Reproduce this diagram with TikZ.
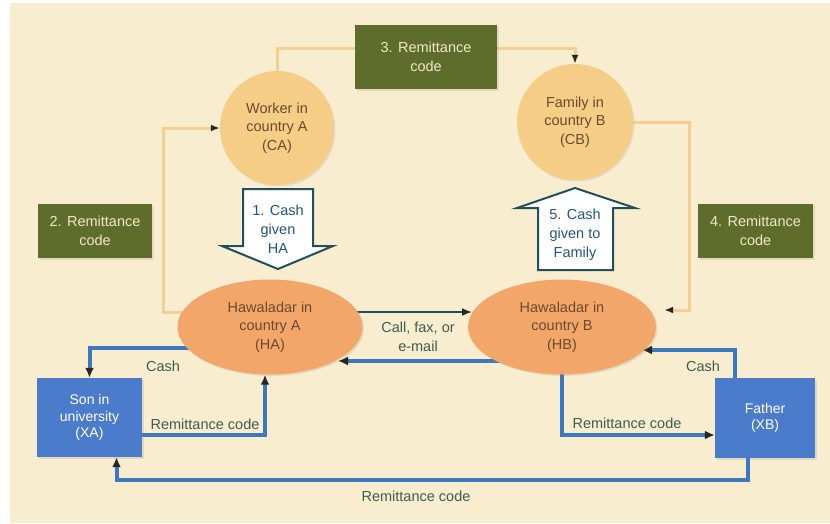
\documentclass[tikz,border=0pt]{standalone}
\usepackage{fontspec}
\setmainfont{Liberation Sans}
\usetikzlibrary{arrows.meta,calc,shapes.geometric,shadows,backgrounds}
\definecolor{cream}{HTML}{F9EDCF}
\definecolor{circfill}{HTML}{F6CD86}
\definecolor{ellfill}{HTML}{F3A66A}
\definecolor{olive}{HTML}{5E6D2C}
\definecolor{oliveText}{HTML}{F2E8C6}
\definecolor{boxblue}{HTML}{4B7BCB}
\definecolor{lineblue}{HTML}{3C78C1}
\definecolor{tanline}{HTML}{F4CE92}
\definecolor{browntext}{HTML}{6B4A2C}
\definecolor{labeltext}{HTML}{3E5C52}
\definecolor{arrowedge}{HTML}{234E5C}
\definecolor{arrowtext}{HTML}{24557A}
\begin{document}
\begin{tikzpicture}[x=1pt,y=-1pt,
  txt/.style={font=\fontsize{14.5}{18.5}\selectfont, align=center},
  soft/.style={drop shadow={opacity=0.18, shadow xshift=1.5pt, shadow yshift=-1.5pt}},
  circ/.style={circle, fill=circfill, minimum size=114pt, inner sep=0pt, txt, text=browntext, soft},
  ell/.style={ellipse, fill=ellfill, inner sep=0pt, txt, text=browntext, soft},
  greenbox/.style={rectangle, fill=olive, inner sep=0pt, txt, text=oliveText, soft},
  bluebox/.style={rectangle, fill=boxblue, inner sep=0pt, txt, text=white, font=\fontsize{14}{16.5}\selectfont, soft},
  tan/.style={draw=tanline, line width=3pt, -{Latex[length=9pt,width=7pt,color=black!85]}},
  tanplain/.style={draw=tanline, line width=3pt},
  blue/.style={draw=lineblue, line width=4pt, -{Latex[length=10pt,width=9pt,color=black!85]}},
  thin/.style={draw=arrowedge, line width=1.8pt, -{Latex[length=10pt,width=8pt,color=black!85]}},
  lab/.style={txt, text=labeltext, inner sep=1pt},
  bigarrow/.style={fill=white, draw=arrowedge, line width=2pt, line join=miter},
  arrowtxt/.style={txt, text=arrowtext, font=\fontsize{14.5}{19}\selectfont, inner sep=0pt}]

\begin{pgfonlayer}{background}
  \fill[white] (0,0) rectangle (830,523);
  \fill[cream] (10,3) rectangle (830,523);
\end{pgfonlayer}
\useasboundingbox (0,0) rectangle (830,523);

% nodes
\node[circ] (CA) at (277,128) {Worker in\\country A\\(CA)};
\node[circ, minimum size=116pt] (CB) at (575,122) {Family in\\country B\\(CB)};
\node[greenbox, minimum width=142pt, minimum height=64pt] (B3) at (426,57) {3. Remittance\\code};
\node[greenbox, minimum width=114pt, minimum height=54pt] (B2) at (95,231) {2. Remittance\\code};
\node[greenbox, minimum width=115pt, minimum height=54pt] (B4) at (755.5,231) {4. Remittance\\code};
\node[ell, minimum width=185pt, minimum height=95pt] (HA) at (270,327) {Hawaladar in\\country A\\(HA)};
\node[ell, minimum width=188pt, minimum height=95pt] (HB) at (562,327) {Hawaladar in\\country B\\(HB)};
\node[bluebox, minimum width=105pt, minimum height=79pt] (XA) at (89.5,417.5) {Son in\\university\\(XA)};
\node[bluebox, minimum width=100pt, minimum height=80pt] (XB) at (765,418) {Father\\(XB)};

% big arrows
\path[bigarrow] (243,189) -- (313,189) -- (313,246) -- (333,246) -- (278,269) -- (222,246) -- (243,246) -- cycle;
\node[arrowtxt] (A1) at (278,229) {1. Cash\\given\\HA};
\path[bigarrow] (538,270) -- (538,208) -- (517,208) -- (575,188) -- (635,208) -- (613,208) -- (613,270) -- cycle;
\node[arrowtxt] (A5) at (575,235) {5. Cash\\given to\\Family};

% connectors
\begin{pgfonlayer}{background}
  \coordinate (t3w) at ($(B3.west)+(0,-9)$);
  \coordinate (t3e) at ($(B3.east)+(0,-9)$);
  \draw[tanplain] (CA.north) |- (t3w);
  \draw[tan] (t3e) -| (CB.north);
  \draw[tan] ($(HA.center)+(-60,-15)$) -| ($(B2.east)+(11,0)$) |- (CA.west);
  \draw[tan, shorten >=8pt] (CB.east) -| ($(B4.west)+(-8,0)$) |- ($(HB.east)+(0,-17)$);

  \draw[thin] ($(HA.center)+(82,-15)$) -- ($(HB.center)+(-90,-15)$);
  \draw[blue] ($(HB.center)+(-60,34)$) -- ($(HA.center)+(68,34)$);
  \draw[blue] ($(HA.center)+(-60,21)$) -| (XA.north);
  \draw[blue] ($(XA.east)+(0,17)$) -| ($(HA.south)+(-5,0)$);
  \draw[blue] ($(XB.south)+(-17,0)$) |- ($(XA.south)+(27,23)$) -- ($(XA.south)+(27,0)$);
  \draw[blue] ($(HB.south)+(0,-5)$) |- ($(XB.west)+(0,17)$);
  \draw[blue] ($(XB.north)+(-30,0)$) |- ($(HB.center)+(80,23)$);
\end{pgfonlayer}

% labels
\node[lab] (lcall) at (418,337) {Call, fax, or\\e-mail};
\node[lab] (lcashA) at (163,366) {Cash};
\node[lab] (lremA) at (205,424) {Remittance code};
\node[lab] (lremB) at (627,423) {Remittance code};
\node[lab] (lcashB) at (703,366) {Cash};
\node[lab] (lremC) at (416,496) {Remittance code};
\end{tikzpicture}
\end{document}
